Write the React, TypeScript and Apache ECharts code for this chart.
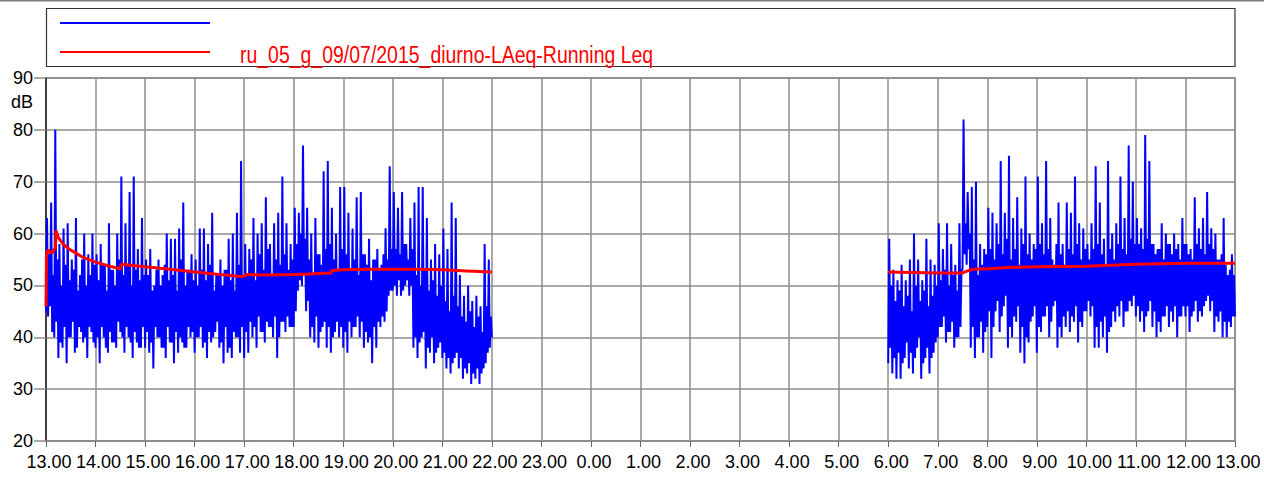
import React, { useEffect, useRef } from 'react';
import * as echarts from 'echarts';

// Tick labels of the time axis (hours offset from 13.00)
const hourLabels = [
  '13.00', '14.00', '15.00', '16.00', '17.00', '18.00', '19.00', '20.00', '21.00', '22.00',
  '23.00', '0.00', '1.00', '2.00', '3.00', '4.00', '5.00', '6.00', '7.00', '8.00',
  '9.00', '10.00', '11.00', '12.00', '13.00',
];
const yMin = 20;
const yMax = 90;
const yStep = 10;
const unitLabel = 'dB';
const leqName = 'ru_05_g_09/07/2015_diurno-LAeq-Running Leq';

// LAeq short samples: per hour, 12 bins of 5 min, each with a spike peak, a trough,
// and the low / high of the dense core band
const day1Start = 0; // 13.00
const day1Peaks = [
  [63, 66, 80, 58, 61, 62, 55, 63, 52, 60, 56, 60],
  [56, 58, 54, 62, 53, 60, 71, 62, 68, 71, 57, 63],
  [55, 57, 50, 55, 52, 60, 59, 59, 61, 66, 53, 56],
  [55, 61, 61, 58, 64, 52, 55, 53, 59, 60, 64, 74],
  [58, 57, 63, 60, 62, 67, 58, 62, 64, 71, 62, 58],
  [65, 64, 77, 65, 60, 63, 56, 72, 74, 65, 60, 69],
  [69, 64, 61, 67, 68, 56, 59, 55, 57, 54, 61, 73],
  [68, 65, 68, 58, 63, 66, 69, 69, 63, 55, 58, 56],
  [61, 57, 66, 63, 52, 48, 50, 47, 48, 46, 58, 55],
];
const day1Troughs = [
  [45, 46, 40, 36, 38, 35, 40, 37, 42, 39, 36, 41],
  [38, 35, 40, 37, 39, 38, 41, 37, 40, 36, 39, 38],
  [38, 37, 34, 40, 38, 36, 39, 35, 37, 39, 38, 40],
  [37, 40, 38, 36, 39, 41, 38, 35, 37, 36, 40, 37],
  [36, 37, 40, 38, 41, 39, 42, 40, 36, 43, 41, 42],
  [42, 49, 50, 45, 40, 39, 38, 42, 38, 37, 41, 40],
  [38, 37, 40, 42, 40, 38, 39, 35, 38, 42, 43, 48],
  [49, 48, 48, 50, 48, 38, 36, 40, 34, 37, 35, 38],
  [36, 34, 33, 36, 34, 32, 33, 31, 32, 31, 34, 37],
];
const day1MidHigh = [
  [56, 52, 55, 50, 54, 51, 53, 49, 55, 50, 52, 54],
  [51, 54, 49, 53, 50, 55, 52, 54, 50, 53, 51, 52],
  [52, 49, 53, 50, 54, 51, 52, 49, 55, 50, 53, 51],
  [50, 53, 51, 54, 49, 52, 50, 53, 51, 49, 54, 52],
  [52, 55, 51, 56, 53, 57, 52, 55, 54, 56, 53, 55],
  [58, 60, 59, 55, 52, 56, 54, 57, 58, 55, 53, 57],
  [56, 53, 55, 52, 56, 54, 51, 55, 53, 56, 55, 57],
  [57, 56, 58, 55, 57, 52, 50, 53, 49, 51, 48, 50],
  [47, 45, 48, 46, 44, 43, 45, 42, 44, 41, 46, 44],
];
const day1MidLow = [
  [44, 41, 43, 39, 42, 40, 43, 38, 41, 40, 42, 39],
  [40, 42, 38, 41, 39, 43, 40, 42, 39, 41, 38, 42],
  [41, 39, 42, 40, 38, 42, 39, 41, 40, 38, 42, 41],
  [40, 42, 39, 41, 40, 43, 39, 42, 38, 41, 40, 42],
  [41, 43, 42, 44, 41, 43, 42, 44, 40, 43, 44, 42],
  [45, 51, 52, 47, 42, 44, 41, 43, 42, 40, 43, 42],
  [41, 43, 42, 44, 43, 41, 40, 42, 43, 44, 45, 49],
  [50, 51, 49, 51, 50, 40, 39, 41, 38, 40, 37, 39],
  [37, 36, 35, 37, 36, 34, 35, 33, 34, 33, 35, 38],
];
const day1End = 40;

const day2Start = 17; // 6.00
const day2Peaks = [
  [59, 53, 51, 54, 51, 55, 60, 55, 51, 59, 55, 54],
  [62, 57, 62, 58, 54, 62, 82, 68, 69, 70, 58, 57],
  [65, 64, 62, 74, 64, 75, 63, 67, 61, 71, 60, 58],
  [71, 62, 74, 63, 54, 66, 58, 66, 64, 71, 62, 61],
  [58, 62, 73, 66, 59, 74, 60, 62, 71, 63, 77, 70],
  [63, 61, 79, 74, 58, 57, 62, 60, 58, 60, 58, 63],
  [58, 57, 67, 61, 63, 68, 61, 60, 55, 63, 52, 56],
];
const day2Troughs = [
  [35, 33, 32, 32, 36, 34, 33, 38, 32, 36, 33, 37],
  [40, 42, 39, 41, 38, 40, 53, 54, 38, 36, 40, 37],
  [42, 36, 45, 41, 46, 38, 40, 43, 37, 35, 39, 44],
  [37, 41, 44, 40, 46, 38, 40, 42, 41, 43, 39, 42],
  [45, 44, 38, 38, 40, 37, 42, 43, 44, 42, 45, 46],
  [44, 43, 41, 45, 42, 40, 41, 44, 42, 43, 40, 44],
  [44, 41, 45, 43, 44, 47, 45, 41, 43, 40, 40, 42],
];
const day2MidHigh = [
  [50, 47, 49, 46, 48, 45, 50, 47, 49, 46, 48, 50],
  [51, 53, 50, 52, 49, 53, 62, 60, 55, 52, 54, 56],
  [57, 55, 58, 56, 59, 55, 57, 54, 58, 56, 55, 57],
  [58, 56, 57, 55, 58, 56, 54, 57, 56, 58, 55, 57],
  [55, 57, 58, 56, 54, 57, 55, 58, 57, 56, 59, 58],
  [58, 57, 59, 58, 56, 57, 55, 58, 56, 57, 55, 58],
  [56, 55, 58, 57, 56, 58, 57, 55, 56, 54, 53, 52],
];
const day2MidLow = [
  [38, 36, 37, 35, 39, 37, 36, 40, 35, 38, 36, 39],
  [42, 44, 41, 43, 40, 42, 56, 57, 42, 40, 43, 41],
  [45, 42, 47, 44, 48, 42, 44, 46, 42, 40, 43, 46],
  [42, 44, 46, 43, 47, 42, 44, 45, 44, 46, 43, 45],
  [47, 46, 42, 43, 44, 41, 45, 46, 47, 45, 47, 48],
  [46, 45, 44, 47, 45, 43, 44, 46, 45, 46, 44, 46],
  [46, 44, 47, 45, 46, 48, 47, 44, 45, 43, 43, 44],
];
const day2End = 44;

// Running Leq [hours from 13.00, dB]
const leqDay1 = [
  [0, 46], [0.01, 56.2], [0.05, 56.9], [0.08, 56.2], [0.11, 56.6], [0.14, 56.3],
  [0.17, 57.2], [0.19, 57.0], [0.2, 60.6], [0.25, 59.2], [0.35, 57.9], [0.5, 56.8],
  [0.75, 55.4], [1.0, 54.5], [1.25, 53.8], [1.5, 53.2], [1.52, 54.1], [2.0, 53.6],
  [2.5, 53.1], [3.0, 52.6], [3.5, 52.1], [3.95, 51.7], [4.0, 51.8], [4.03, 52.1],
  [4.5, 52.0], [5.0, 52.1], [5.3, 52.2], [5.75, 52.4], [5.77, 52.9], [6.0, 53.0],
  [6.5, 53.1], [7.0, 53.1], [7.5, 53.1], [8.0, 53.0], [8.5, 52.8], [9.0, 52.6],
];
const leqDay2 = [
  [17, 52.6], [17.5, 52.5], [18, 52.4], [18.5, 52.4], [18.6, 52.8], [18.7, 53.1],
  [19, 53.2], [19.33, 53.4], [19.5, 53.5], [20, 53.6], [21, 53.7], [22, 54.1],
  [23, 54.3], [24, 54.3],
];

function buildTrace(
  start: number,
  peaks: number[][],
  troughs: number[][],
  midLow: number[][],
  midHigh: number[][],
  endVal: number,
) {
  const pts: number[][] = [];
  peaks.forEach((row, h) => {
    row.forEach((p, i) => {
      const seq = [troughs[h][i], p, midLow[h][i], midHigh[h][i]];
      seq.forEach((v, k) => pts.push([start + h + (4 * i + k) / 48, v]));
    });
  });
  pts.push([start + peaks.length, endVal]);
  return pts;
}

const FONT = 'Liberation Sans, Arial, sans-serif';

export default function App() {
  const ref = useRef<HTMLDivElement>(null);
  useEffect(() => {
    if (!ref.current) return;
    const chart = echarts.init(ref.current, null, { renderer: 'svg' });
    const blue = '#0000ff';
    const red = '#ff0000';
    const blueLine = { color: blue, width: 2 };
    const redLine = { color: red, width: 3 };
    chart.setOption({
      animation: false,
      backgroundColor: '#ffffff',
      grid: { left: 46, right: 29, top: 78, bottom: 36, show: true, borderColor: '#8c8c8c', borderWidth: 1.5 },
      xAxis: {
        type: 'value',
        min: 0,
        max: hourLabels.length - 1,
        interval: 1,
        axisLine: { show: true, lineStyle: { color: '#8c8c8c', width: 1.5 } },
        axisTick: { show: true, length: 6, lineStyle: { color: '#666', width: 1 } },
        splitLine: { show: true, lineStyle: { color: '#8c8c8c', width: 1.5 } },
        axisLabel: {
          formatter: (v: number) => hourLabels[Math.round(v)],
          color: '#000',
          fontSize: 18,
          fontFamily: FONT,
          margin: 12,
          padding: [0, 0, 0, 6],
          showMinLabel: true,
          showMaxLabel: true,
          hideOverlap: false,
        },
      },
      yAxis: {
        type: 'value',
        min: yMin,
        max: yMax,
        interval: yStep,
        axisLine: { show: true, lineStyle: { color: '#222', width: 1.5 } },
        axisTick: { show: true, length: 12, lineStyle: { color: '#8c8c8c', width: 1.5 } },
        splitLine: { show: true, lineStyle: { color: '#8c8c8c', width: 1.5 } },
        axisLabel: { color: '#000', fontSize: 18, fontFamily: FONT, margin: 13 },
      },
      graphic: [
        { type: 'line', shape: { x1: 0, y1: 0.5, x2: 1264, y2: 0.5 }, style: { stroke: '#808080', lineWidth: 2 } },
        { type: 'rect', shape: { x: 46.5, y: 8.5, width: 1188.5, height: 58 }, style: { fill: '#fff', stroke: '#333', lineWidth: 1.2 } },
        { type: 'line', shape: { x1: 60, y1: 23, x2: 210, y2: 23 }, style: { stroke: blue, lineWidth: 2 } },
        { type: 'line', shape: { x1: 60, y1: 52, x2: 210, y2: 52 }, style: { stroke: red, lineWidth: 2 } },
        {
          type: 'text', x: 240, y: 55, scaleX: 0.846, scaleY: 1,
          style: { text: leqName, fill: red, font: `23px ${FONT}`, verticalAlign: 'middle', align: 'left' },
        },
        {
          type: 'text', x: 33, y: 102,
          style: { text: unitLabel, fill: '#000', font: `18px ${FONT}`, verticalAlign: 'middle', align: 'right' },
        },
      ],
      series: [
        { type: 'line', name: 'LAeq 1', data: buildTrace(day1Start, day1Peaks, day1Troughs, day1MidLow, day1MidHigh, day1End), showSymbol: false, lineStyle: blueLine, z: 2 },
        { type: 'line', name: 'LAeq 2', data: buildTrace(day2Start, day2Peaks, day2Troughs, day2MidLow, day2MidHigh, day2End), showSymbol: false, lineStyle: blueLine, z: 2 },
        { type: 'line', name: leqName, data: leqDay1, showSymbol: false, lineStyle: redLine, z: 3 },
        { type: 'line', name: leqName + ' ', data: leqDay2, showSymbol: false, lineStyle: redLine, z: 3 },
      ],
    });
    return () => chart.dispose();
  }, []);
  return <div ref={ref} style={{ position: 'absolute', left: 0, top: 0, width: 1264, height: 477 }} />;
}
